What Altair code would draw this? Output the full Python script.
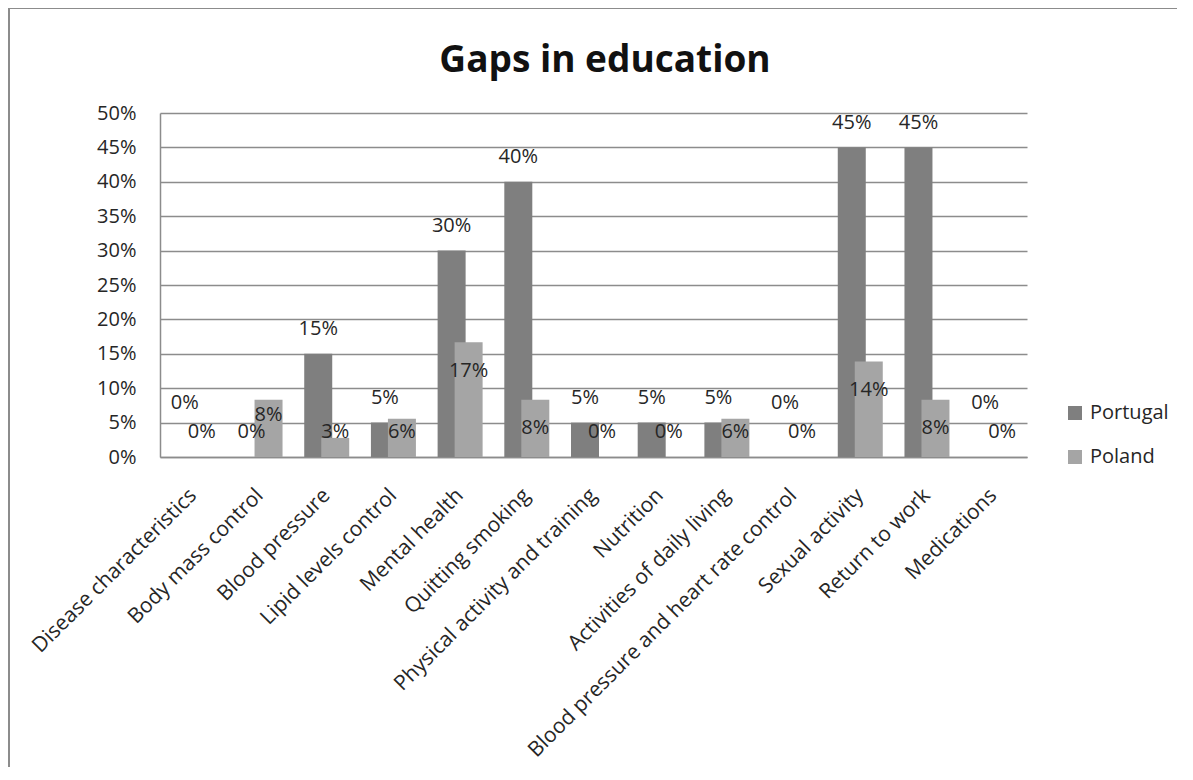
import altair as alt
import pandas as pd

categories = [
    "Disease characteristics", "Body mass control", "Blood pressure",
    "Lipid levels control", "Mental health", "Quitting smoking",
    "Physical activity and training", "Nutrition", "Activities of daily living",
    "Blood pressure and heart rate control", "Sexual activity", "Return to work",
    "Medications",
]
portugal = [0, 0, 15, 5, 30, 40, 5, 5, 5, 0, 45, 45, 0]
poland = [0, 8.33, 2.78, 5.56, 16.67, 8.33, 0, 0, 5.56, 0, 13.89, 8.33, 0]
series = ["Portugal", "Poland"]
colors = ["#7f7f7f", "#a5a5a5"]
y_ticks = [0, 5, 10, 15, 20, 25, 30, 35, 40, 45, 50]
title_text = ["Gaps in education"]

FONT = "Open Sans"
W, H = 867, 344

rows = []
for c, pt, pl in zip(categories, portugal, poland):
    # Excel-like label placement: Portugal outside end, Poland inside end
    lab_pt = pt + 3.6
    if pt == 0 and pl == 0:
        lab_pt = 7.8
    lab_pl = max(pl - 4.1, 3.6)
    if pt == 0 and pl > 0:
        lab_pl = pl - 2.2
    rows.append({"category": c, "country": "Portugal", "value": pt, "lab": lab_pt,
                 "txt": f"{round(pt):d}%"})
    rows.append({"category": c, "country": "Poland", "value": pl, "lab": lab_pl,
                 "txt": f"{round(pl):d}%"})
df = pd.DataFrame(rows)

xenc = alt.X(
    "category:N", sort=categories, title=None,
    scale=alt.Scale(paddingInner=0, paddingOuter=0),
    axis=alt.Axis(labelAngle=-45, labelAlign="right", labelBaseline="middle",
                  labelPadding=35, ticks=False, tickSize=0, labelLimit=600,
                  labelOverlap=False, labelFont=FONT, labelFontSize=21,
                  labelColor="#262626", domainColor="#8c8c8c", domainWidth=1.5,
                  grid=False),
)
yscale = alt.Scale(domain=[0, 50], nice=False, zero=True)
yaxis = alt.Axis(values=y_ticks, labelExpr="datum.value + '%'", labelOverlap=False,
                 ticks=False, tickSize=0, labelPadding=24, title=None,
                 labelFont=FONT, labelFontSize=20, labelColor="#262626",
                 grid=True, gridColor="#8c8c8c", gridWidth=1.5,
                 domainColor="#8c8c8c", domainWidth=1.5)
color = alt.Color(
    "country:N", sort=series,
    scale=alt.Scale(domain=series, range=colors),
    legend=alt.Legend(title=None, orient="none", legendX=905, legendY=290,
                      symbolType="square", symbolSize=196, symbolStrokeWidth=0,
                      labelFont=FONT, labelFontSize=20, labelColor="#262626",
                      rowPadding=24, labelOffset=5, padding=0),
)

base = alt.Chart(df)

bar_pt = base.transform_filter(alt.datum.country == "Portugal").mark_bar(
    width=28, xOffset=-8.5).encode(
    x=xenc, y=alt.Y("value:Q", scale=yscale, title=None, axis=yaxis), color=color,
)
bar_pl = base.transform_filter(alt.datum.country == "Poland").mark_bar(
    width=28, xOffset=8.5).encode(
    x=xenc, y=alt.Y("value:Q", scale=yscale, title=None, axis=yaxis), color=color,
)
txt_pt = base.transform_filter(alt.datum.country == "Portugal").mark_text(
    xOffset=-8.5, font=FONT, fontSize=20, color="#262626", baseline="middle").encode(
    x=xenc, y=alt.Y("lab:Q", scale=yscale, title=None, axis=yaxis), text="txt:N",
)
txt_pl = base.transform_filter(alt.datum.country == "Poland").mark_text(
    xOffset=8.5, font=FONT, fontSize=20, color="#262626", baseline="middle").encode(
    x=xenc, y=alt.Y("lab:Q", scale=yscale, title=None, axis=yaxis), text="txt:N",
)

one = alt.Chart(pd.DataFrame({"k": [0]}))
frame_left = one.mark_rule(color="#8c8c8c", strokeWidth=2).encode(
    x=alt.value(-151), y=alt.value(-105), y2=alt.value(H + 310))
frame_top = one.mark_rule(color="#8c8c8c", strokeWidth=2).encode(
    x=alt.value(-151), x2=alt.value(W + 150), y=alt.value(-105))
title = alt.Chart(pd.DataFrame({"t": title_text})).mark_text(
    font=FONT, fontSize=37, fontWeight="bold", color="#111111",
    align="center", baseline="alphabetic").encode(
    text="t:N", x=alt.value(445), y=alt.value(-41))

chart = alt.layer(bar_pt, bar_pl, txt_pt, txt_pl, frame_left, frame_top, title).properties(
    width=W, height=H,
    autosize=alt.AutoSizeParams(type="none"),
    padding={"left": 152, "top": 105, "right": 150, "bottom": 310},
    background="white",
).configure_view(stroke=None)

chart.save("out.html", embed_options={"renderer": "svg", "actions": False})
